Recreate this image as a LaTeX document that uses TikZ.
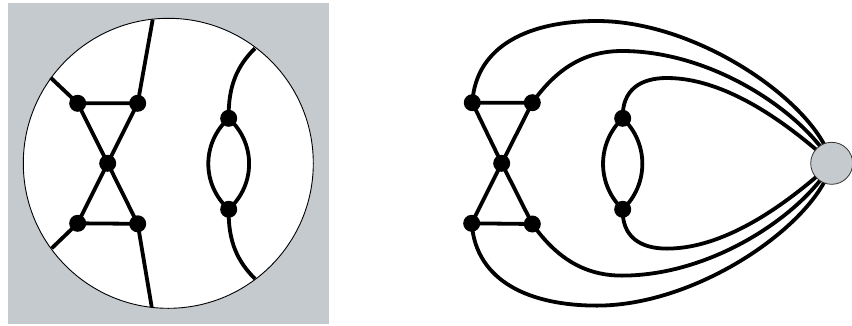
\documentclass[tikz,border=0pt]{standalone}
\usetikzlibrary{calc}
\definecolor{panelgray}{RGB}{197,202,207}
\begin{document}
\begin{tikzpicture}[x=1pt,y=-1pt,
  edge/.style={line width=3.8pt},
  vtx/.style={circle,fill=black,inner sep=0pt,minimum size=17pt},
  hub/.style={circle,draw=black!80,line width=0.8pt,fill=panelgray,inner sep=0pt,minimum size=42pt}]
\useasboundingbox (0,0) rectangle (852,325);
% ---------- left panel ----------
\fill[panelgray] (8,3) rectangle (329,324);
\node[circle,draw=black,line width=0.9pt,fill=white,inner sep=0pt,minimum size=290pt] (disk) at (168.3,163.3) {};
\coordinate (bUL) at (50.7,77.7);
\coordinate (bLL) at (51.7,248.3);
\coordinate (bUR) at (152.7,19.5);
\coordinate (bLR) at (151.7,307);
\coordinate (bT) at (255,48.3);
\coordinate (bB) at (255,278.8);
\node[vtx] (a1) at (77.7,103.3) {};
\node[vtx] (a2) at (137.7,103.3) {};
\node[vtx] (a3) at (107.7,163.3) {};
\node[vtx] (a4) at (77.7,223.3) {};
\node[vtx] (a5) at (137.7,223.8) {};
\node[vtx] (a6) at (228.7,118.3) {};
\node[vtx] (a7) at (228.7,209.3) {};
\draw[edge] (a1.center) -- (a2.center) -- (a3.center) -- (a1.center);
\draw[edge] (a4.center) -- (a5.center) -- (a3.center) -- (a4.center);
\draw[edge] (a1.center) -- (bUL);
\draw[edge] (a4.center) -- (bLL);
\draw[edge] (a2.center) -- (bUR);
\draw[edge] (a5.center) -- (bLR);
\draw[edge] (a6.center) .. controls (228,85) and (238,65) .. (bT);
\draw[edge] (a7.center) .. controls (228,242) and (238,262) .. (bB);
\draw[edge] (a6.center) .. controls (201.5,143) and (201.5,184.6) .. (a7.center);
\draw[edge] (a6.center) .. controls (255.9,143) and (255.9,184.6) .. (a7.center);
% ---------- right panel ----------
\node[vtx] (b1) at (472.3,102.7) {};
\node[vtx] (b2) at (532.3,102.7) {};
\node[vtx] (b3) at (501.7,163.3) {};
\node[vtx] (b4) at (471.7,223.3) {};
\node[vtx] (b5) at (532.3,224) {};
\node[vtx] (b6) at (622.7,118.3) {};
\node[vtx] (b7) at (622.7,209.3) {};
\coordinate (hc) at (831.7,163.3);
\draw[edge] (b1.center) -- (b2.center) -- (b3.center) -- (b1.center);
\draw[edge] (b4.center) -- (b5.center) -- (b3.center) -- (b4.center);
\draw[edge] (b6.center) .. controls (596.5,143) and (596.5,184.6) .. (b7.center);
\draw[edge] (b6.center) .. controls (648.9,143) and (648.9,184.6) .. (b7.center);
% upper loops
\draw[edge] (b1.center) .. controls (476,45) and (530,21) .. (597,21)
  .. controls (700,21) and (818,105) .. (hc);
\draw[edge] (b2.center) .. controls (557,68) and (585,51) .. (622,51)
  .. controls (715,51) and (805,115) .. (hc);
\draw[edge] (b6.center) .. controls (622,90) and (640,78) .. (667,78)
  .. controls (730,78) and (795,130) .. (hc);
% lower loops
\draw[edge] (b4.center) .. controls (476,281.6) and (530,305.6) .. (597,305.6)
  .. controls (700,305.6) and (818,221.6) .. (hc);
\draw[edge] (b5.center) .. controls (557,258.6) and (585,275.6) .. (622,275.6)
  .. controls (715,275.6) and (805,211.6) .. (hc);
\draw[edge] (b7.center) .. controls (622,236.6) and (640,248.6) .. (667,248.6)
  .. controls (730,248.6) and (795,196.6) .. (hc);
\node[hub] (hub) at (hc) {};
\end{tikzpicture}
\end{document}
